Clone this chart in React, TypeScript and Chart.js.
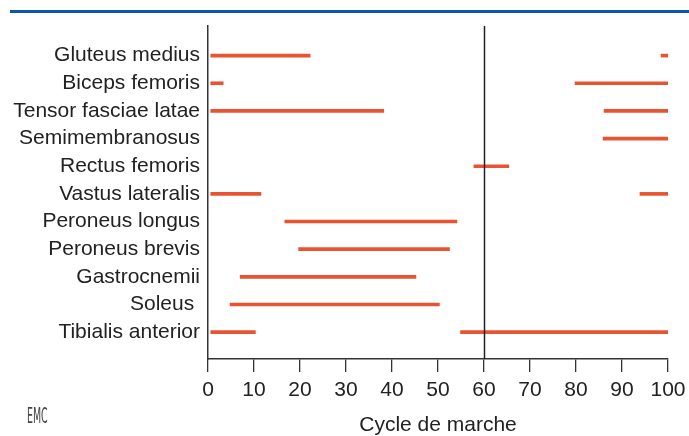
import React, { useEffect, useRef } from 'react';
import { Chart, registerables } from 'chart.js';

Chart.register(...registerables);

const muscles = [
  'Gluteus medius',
  'Biceps femoris',
  'Tensor fasciae latae',
  'Semimembranosus',
  'Rectus femoris',
  'Vastus lateralis',
  'Peroneus longus',
  'Peroneus brevis',
  'Gastrocnemii',
  'Soleus ',
  'Tibialis anterior',
];

// First activity burst (% of gait cycle)
const phase1Start: (number | null)[] = [0.6, 0.6, 0.6, null, 57.8, 0.6, 16.7, 19.7, 7.0, 4.8, 0.6];
const phase1End: (number | null)[] = [22.2, 3.3, 38.2, null, 65.4, 11.5, 54.1, 52.5, 45.2, 50.3, 10.3];
// Second activity burst (% of gait cycle)
const phase2Start: (number | null)[] = [98.5, 79.8, 86.1, 85.9, null, 93.9, null, null, null, null, 54.9];
const phase2End: (number | null)[] = [100, 100, 100, 100, null, 100, null, null, null, null, 100];

const xTicks = [0, 10, 20, 30, 40, 50, 60, 70, 80, 90, 100];
const refLine = 60;
const xTitle = 'Cycle de marche';
const logo = 'EMC';

const FONT = '"Liberation Sans", Arial, Helvetica, sans-serif';
const BAR = '#e9532f';
const INK = '#222222';

function toData(s: (number | null)[], e: (number | null)[]) {
  const out: any[] = [];
  s.forEach((v, i) => {
    if (v != null && e[i] != null) out.push({ x: [v, e[i]], y: i });
  });
  return out;
}

export default function App() {
  const ref = useRef<HTMLCanvasElement>(null);

  useEffect(() => {
    if (!ref.current) return;
    const decor = {
      id: 'decor',
      beforeDraw(chart: any) {
        const ctx = chart.ctx;
        ctx.save();
        ctx.fillStyle = '#0a57a8';
        ctx.fillRect(10, 10, 679, 3);
        ctx.translate(27, 423);
        ctx.scale(0.45, 1);
        ctx.fillStyle = '#444';
        ctx.font = '21px "DejaVu Sans", sans-serif';
        ctx.textBaseline = 'alphabetic';
        ctx.fillText(logo, 0, 0);
        ctx.restore();
      },
      afterDatasetsDraw(chart: any) {
        const ctx = chart.ctx;
        const xs = chart.scales.x;
        const a = chart.chartArea;
        const px = Math.round(xs.getPixelForValue(refLine)) + 0.5;
        ctx.save();
        ctx.strokeStyle = '#222';
        ctx.lineWidth = 1.5;
        ctx.beginPath();
        ctx.moveTo(px, a.top);
        ctx.lineTo(px, a.bottom);
        ctx.stroke();
        ctx.restore();
      },
    };

    const chart = new Chart(ref.current, {
      type: 'bar',
      data: {
        datasets: [
          { data: toData(phase1Start, phase1End), backgroundColor: BAR, barThickness: 3, grouped: false } as any,
          { data: toData(phase2Start, phase2End), backgroundColor: BAR, barThickness: 3, grouped: false } as any,
        ],
      },
      options: {
        indexAxis: 'y',
        animation: false,
        responsive: false,
        layout: { padding: { left: 0, top: 26, right: 21, bottom: 0 } },
        plugins: { legend: { display: false }, tooltip: { enabled: false } },
        scales: {
          x: {
            type: 'linear',
            position: 'bottom',
            min: 0,
            max: 100,
            afterBuildTicks: (s: any) => {
              s.ticks = xTicks.map((v) => ({ value: v }));
            },
            ticks: { color: INK, padding: 6, font: { family: FONT, size: 21 }, maxRotation: 0, autoSkip: false },
            grid: { drawOnChartArea: false, drawTicks: true, tickLength: 13, color: '#333', lineWidth: 1.3 },
            border: { display: true, color: '#333', width: 1.5 },
            title: { display: true, text: xTitle, color: INK, font: { family: FONT, size: 21 }, padding: { top: 0, bottom: -2 } },
            afterFit: (s: any) => {
              s.height = 77;
              s.paddingRight = 0;
              s.paddingLeft = 0;
            },
          },
          y: {
            type: 'linear',
            reverse: true,
            offset: false,
            min: -1.07,
            max: 10.97,
            afterBuildTicks: (s: any) => {
              s.ticks = muscles.map((_, i) => ({ value: i }));
            },
            ticks: {
              autoSkip: false,
              padding: 0,
              color: INK,
              font: { family: FONT, size: 21 },
              callback: (v: any) => muscles[v] ?? '',
            },
            grid: { display: false },
            border: { display: true, color: '#333', width: 1.5 },
            afterFit: (s: any) => {
              s.width = 208;
              s.paddingTop = 0;
              s.paddingBottom = 0;
            },
          },
        },
      } as any,
      plugins: [decor],
    });
    return () => chart.destroy();
  }, []);

  return (
    <div style={{ position: 'absolute', left: 0, top: 0, width: 689, height: 436, background: '#fff' }}>
      <canvas ref={ref} width={689} height={436} style={{ display: 'block', width: 689, height: 436 }} />
    </div>
  );
}
